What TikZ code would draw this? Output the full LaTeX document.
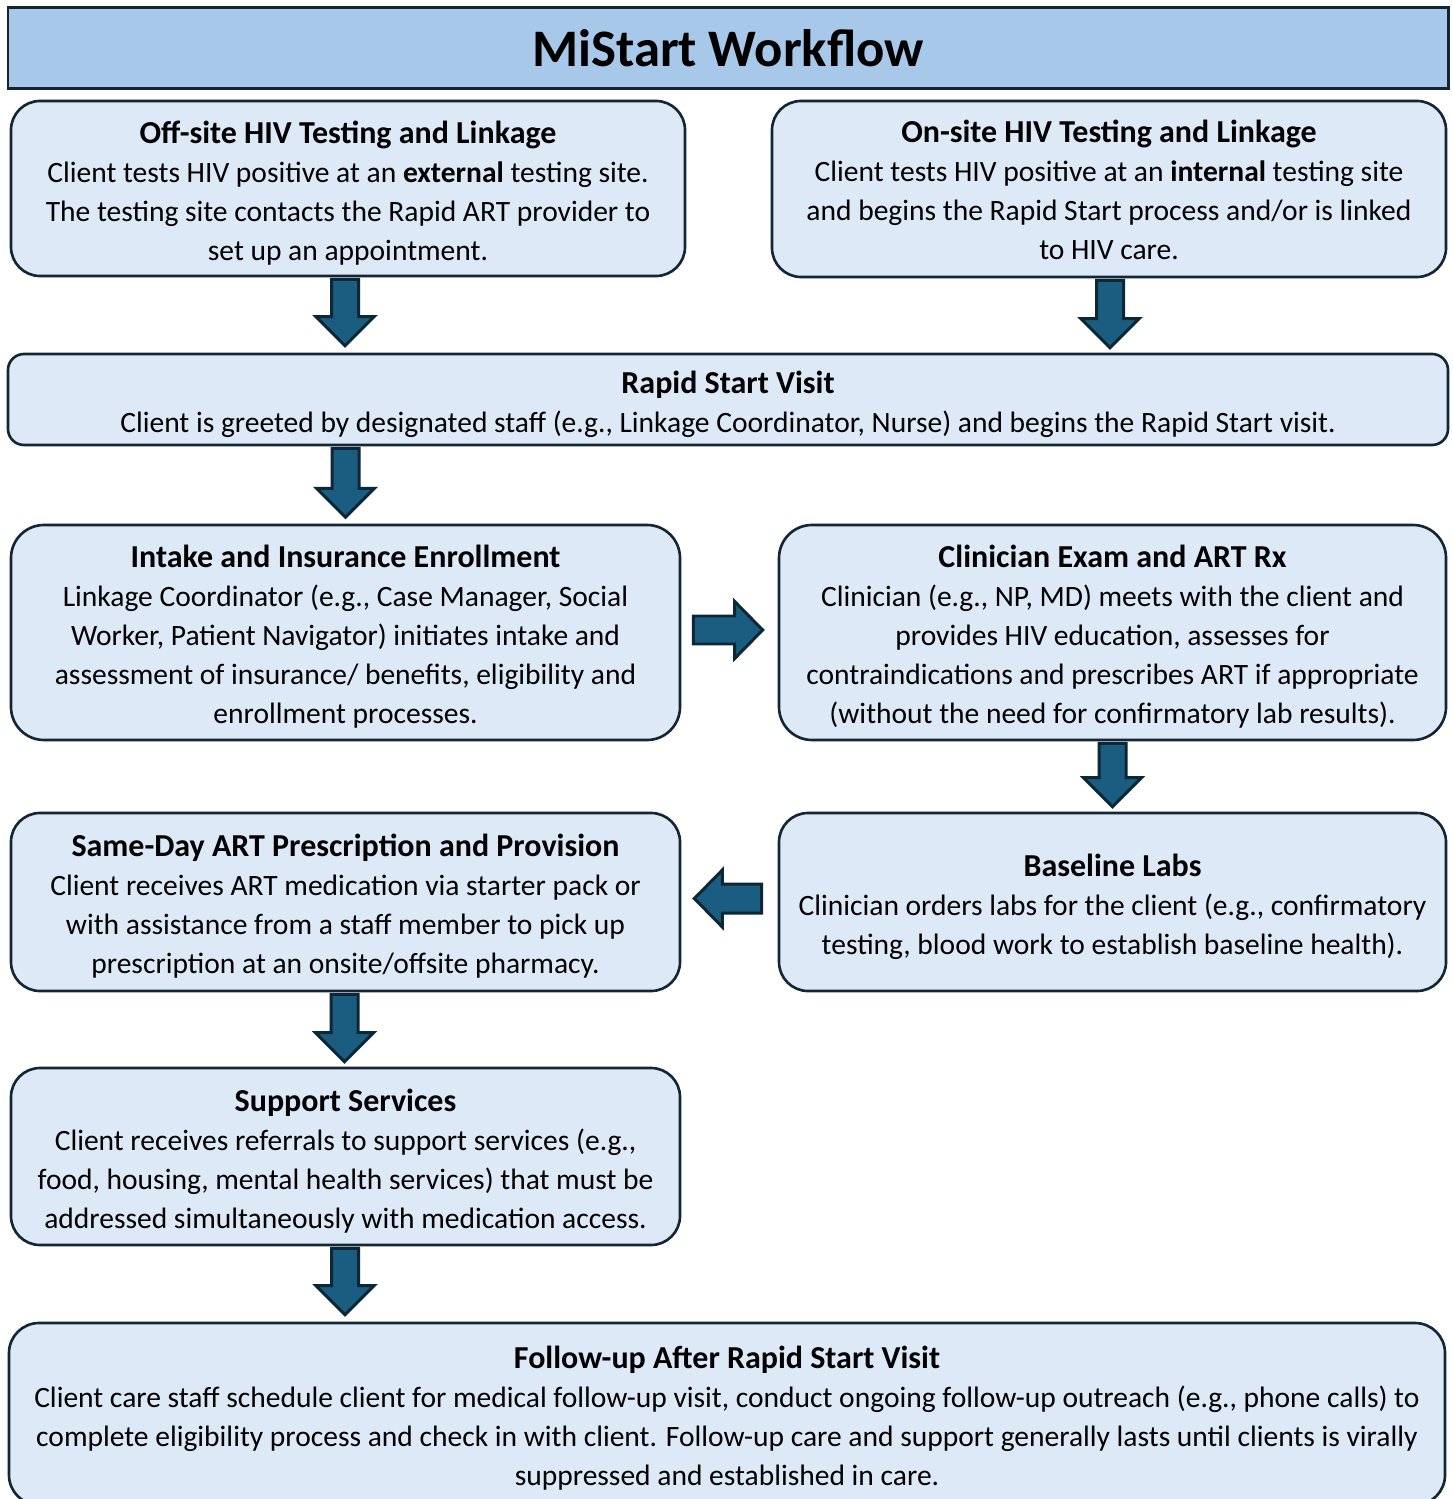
\documentclass[tikz,border=0pt]{standalone}
\usepackage{fontspec}
\setmainfont{Carlito}
\usetikzlibrary{calc}
\definecolor{boxfill}{HTML}{DDE9F6}
\definecolor{titlefill}{HTML}{A8C8EA}
\definecolor{edge}{HTML}{132634}
\definecolor{arrfill}{HTML}{1A5D80}
\definecolor{arredge}{HTML}{0E2736}
\newcommand\hd[1]{\rule{0pt}{8.9pt}{\fontsize{9.1}{11.1}\selectfont\bfseries #1}}
\newcommand\dstrut{\rule[-2.1pt]{0pt}{1pt}}
\tikzset{
  box/.style={draw=edge, fill=boxfill, line width=0.75pt, align=center, inner sep=0pt,
    font=\fontsize{8.4}{11.1}\selectfont},
  titlebox/.style={draw=edge, fill=titlefill, line width=0.85pt, inner sep=0pt,
    font=\fontsize{15}{18}\selectfont\bfseries},
  barrow/.style={draw=arredge, fill=arrfill, line width=0.85pt, line join=miter}
}
\newcommand\downblk[2]{%
  \draw[barrow] ($(#1)+(-0.135,0)$) -- ($(#2)+(-0.135,0.29)$) -- ($(#2)+(-0.29,0.29)$) -- (#2)
    -- ($(#2)+(0.29,0.29)$) -- ($(#2)+(0.135,0.29)$) -- ($(#1)+(0.135,0)$) -- cycle;}
\newcommand\rightblk[2]{%
  \draw[barrow] ($(#1)+(0,0.14)$) -- ($(#2)+(-0.28,0.14)$) -- ($(#2)+(-0.28,0.285)$) -- (#2)
    -- ($(#2)+(-0.28,-0.285)$) -- ($(#2)+(-0.28,-0.14)$) -- ($(#1)+(0,-0.14)$) -- cycle;}
\newcommand\leftblk[2]{%
  \draw[barrow] ($(#1)+(0,0.145)$) -- ($(#2)+(0.28,0.145)$) -- ($(#2)+(0.28,0.285)$) -- (#2)
    -- ($(#2)+(0.28,-0.285)$) -- ($(#2)+(0.28,-0.145)$) -- ($(#1)+(0,-0.145)$) -- cycle;}
\begin{document}
\begin{tikzpicture}
\useasboundingbox (0,0) rectangle (14.53,-14.99);
\clip (0,0) rectangle (14.53,-14.99);
\fill[white] (0,0) rectangle (14.53,-14.99);

\node[titlebox, minimum width=14.40cm, minimum height=0.81cm] (title) at (7.28,-0.485) {MiStart Workflow};

\node[box, rounded corners=0.29cm, minimum width=6.74cm, minimum height=1.75cm] (off) at (3.48,-1.885)
  {\hd{Off-site HIV Testing and Linkage}\\
   Client tests HIV positive at an \textbf{external} testing site.\\
   The testing site contacts the Rapid ART provider to\\
   set up an appointment.};

\node[box, rounded corners=0.29cm, minimum width=6.74cm, minimum height=1.76cm] (on) at (11.09,-1.89)
  {\hd{On-site HIV Testing and Linkage}\\
   Client tests HIV positive at an \textbf{internal} testing site\\
   and begins the Rapid Start process and/or is linked\\
   to HIV care.\dstrut};

\node[box, rounded corners=0.16cm, minimum width=14.40cm, minimum height=0.91cm] (rapid) at (7.28,-3.995)
  {\hd{Rapid Start Visit}\\
   Client is greeted by designated staff (e.g., Linkage Coordinator, Nurse) and begins the Rapid Start visit.};

\node[box, rounded corners=0.33cm, minimum width=6.69cm, minimum height=2.15cm] (intake) at (3.455,-6.325)
  {\hd{Intake and Insurance Enrollment}\\
   Linkage Coordinator (e.g., Case Manager, Social\\
   Worker, Patient Navigator) initiates intake and\\
   assessment of insurance/ benefits, eligibility and\\
   enrollment processes.};

\node[box, rounded corners=0.33cm, minimum width=6.67cm, minimum height=2.15cm] (clin) at (11.125,-6.325)
  {\hd{Clinician Exam and ART Rx}\\
   Clinician (e.g., NP, MD) meets with the client and\\
   provides HIV education, assesses for\\
   contraindications and prescribes ART if appropriate\\
   (without the need for confirmatory lab results).};

\node[box, rounded corners=0.29cm, minimum width=6.69cm, minimum height=1.78cm] (same) at (3.455,-9.02)
  {\hd{Same-Day ART Prescription and Provision}\\
   Client receives ART medication via starter pack or\\
   with assistance from a staff member to pick up\\
   prescription at an onsite/offsite pharmacy.};

\node[box, rounded corners=0.29cm, minimum width=6.67cm, minimum height=1.78cm] (labs) at (11.125,-9.02)
  {\hd{Baseline Labs}\\
   Clinician orders labs for the client (e.g., confirmatory\\
   testing, blood work to establish baseline health).};

\node[box, rounded corners=0.29cm, minimum width=6.69cm, minimum height=1.77cm] (support) at (3.455,-11.565)
  {\hd{Support Services}\\
   Client receives referrals to support services (e.g.,\\
   food, housing, mental health services) that must be\\
   addressed simultaneously with medication access.};

\node[box, rounded corners=0.3cm, minimum width=14.36cm, minimum height=1.82cm] (follow) at (7.27,-14.14)
  {\hd{Follow-up After Rapid Start Visit}\\
   Client care staff schedule client for medical follow-up visit, conduct ongoing follow-up outreach (e.g., phone calls) to\\
   complete eligibility process and check in with client. Follow-up care and support generally lasts until clients is virally\\
   suppressed and established in care.};

% block arrows
\coordinate (a1s) at ($(off.south)+(-0.03,-0.02)$);
\coordinate (a1e) at ($(rapid.north -| a1s)+(0,0.07)$);
\downblk{a1s}{a1e}
\coordinate (a2s) at ($(on.south)+(0.01,-0.02)$);
\coordinate (a2e) at ($(rapid.north -| a2s)+(0,0.05)$);
\downblk{a2s}{a2e}
\coordinate (a3s) at ($(rapid.south -| intake.north)+(0,-0.02)$);
\coordinate (a3e) at ($(rapid.south -| intake.north)+(0,-0.71)$);
\downblk{a3s}{a3e}
\coordinate (a4s) at ($(clin.south)+(0,-0.02)$);
\coordinate (a4e) at ($(labs.north)+(0,0.05)$);
\downblk{a4s}{a4e}
\coordinate (a5s) at ($(same.south)+(-0.01,-0.02)$);
\coordinate (a5e) at ($(support.north -| a5s)+(0,0.05)$);
\downblk{a5s}{a5e}
\coordinate (a6s) at ($(support.south)+(-0.005,-0.02)$);
\coordinate (a6e) at ($(follow.north -| a6s)+(0,0.07)$);
\downblk{a6s}{a6e}
\coordinate (r1s) at ($(intake.east)+(0.12,0.025)$);
\coordinate (r1e) at ($(clin.west |- r1s)+(-0.15,0)$);
\rightblk{r1s}{r1e}
\coordinate (l1s) at ($(labs.west)+(-0.16,0.035)$);
\coordinate (l1e) at ($(same.east |- l1s)+(0.13,0)$);
\leftblk{l1s}{l1e}
\end{tikzpicture}
\end{document}
